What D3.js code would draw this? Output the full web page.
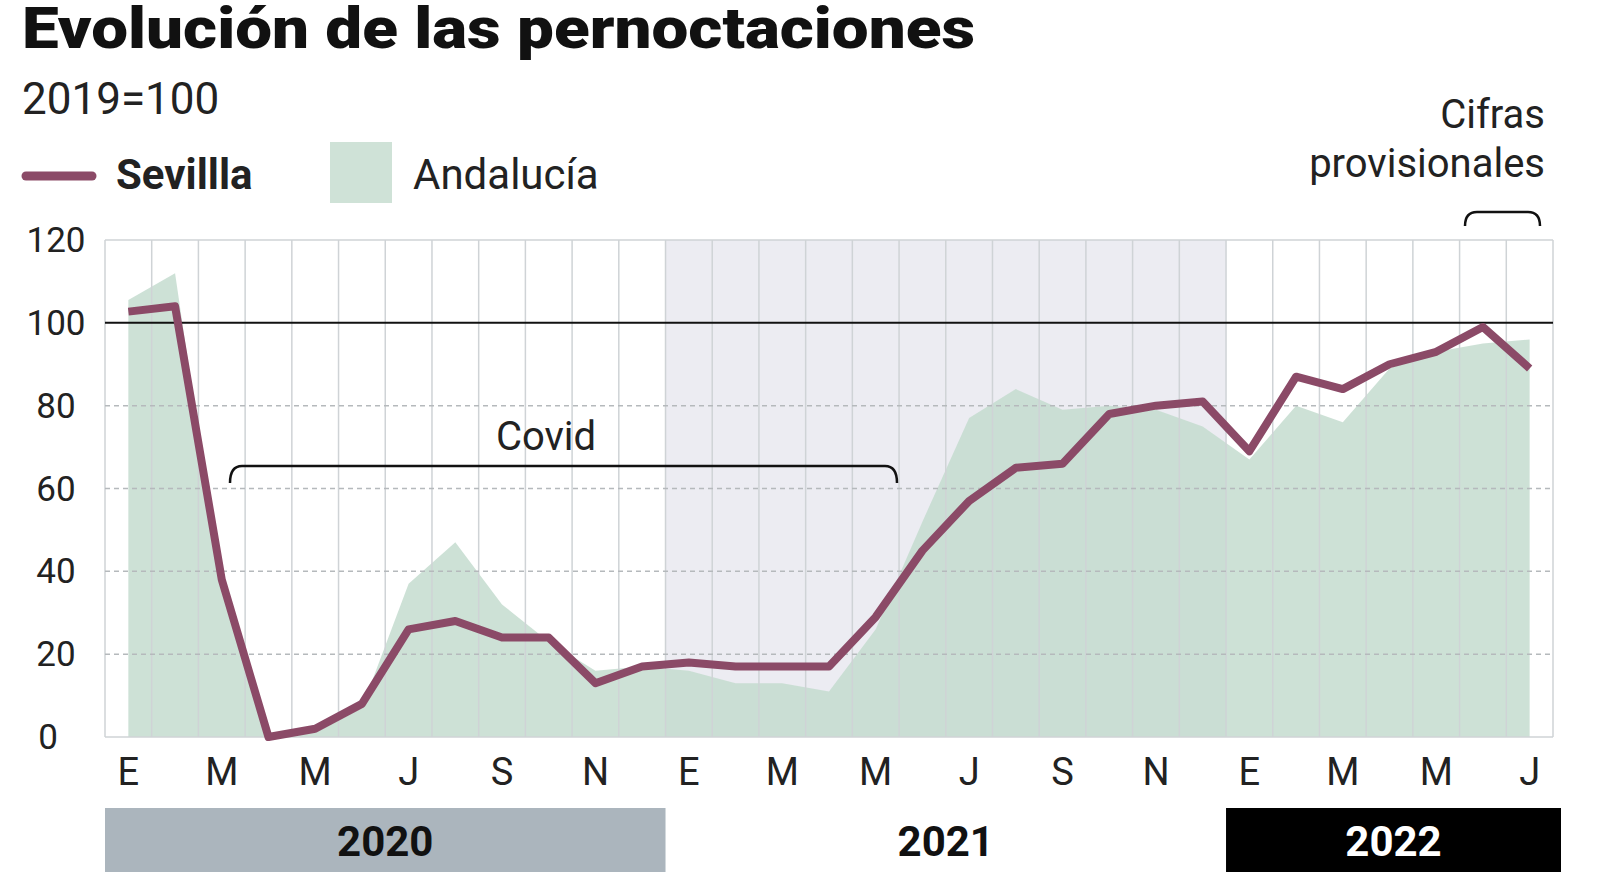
<!DOCTYPE html>
<html><head><meta charset="utf-8">
<script src="https://cdn.jsdelivr.net/npm/d3@7"></script>
<style>body{margin:0;background:#fff}text{font-family:Roboto,"Noto Sans",sans-serif}</style>
</head><body>
<svg id="c" width="1600" height="893"></svg>
<script>
// Jan 2020 .. Jul 2022, index 2019=100
var sevilla = [102.7,104,38,0,2,8,26,28,24,24,13,17,18,17,17,17,29,45,57,65,66,78,80,81,69,87,84,90,93,99,89];
var andalucia = [105.5,112,35,1,1,7,37,47,32,23,16,17,16,13,13,11,26,52,77,84,79,80,79,75,67,80,76,89,93,95,96];
var monthLabels = ['E','F','M','A','M','J','J','A','S','O','N','D','E','F','M','A','M','J','J','A','S','O','N','D','E','F','M','A','M','J','J'];
var labelIdx = [0,2,4,6,8,10,12,14,16,18,20,22,24,26,28,30];
var yTicks = [0,20,40,60,80,100,120];
var years = [{y:'2020',from:0,to:12,fill:'#abb5bd',color:'#111'},{y:'2021',from:12,to:24,fill:'none',color:'#111'},{y:'2022',from:24,to:31,fill:'#000',color:'#fff'}];

var svg = d3.select('#c');
var x0 = 105, x1 = 1553;
var band = d3.scaleBand().domain(d3.range(31)).range([x0, x1]);
var x = function(i) { return band(i) + band.bandwidth() / 2; };
var y = d3.scaleLinear().domain([0,120]).range([737,240]);

// 2021 shading
svg.append('rect').attr('x', band(12)).attr('y', y(120)).attr('width', band.bandwidth()*12)
    .attr('height', y(0)-y(120)).attr('fill', '#ececf2');

// area
svg.append('path').datum(andalucia)
    .attr('d', d3.area().x(function(d,i){return x(i);}).y0(y(0)).y1(function(d){return y(d);}))
    .attr('fill', '#c4dccf').attr('opacity', 0.85);

// vertical grid
svg.selectAll('line.v').data(d3.range(32)).enter().append('line')
    .attr('x1', function(i){return x0 + i*band.bandwidth();}).attr('x2', function(i){return x0 + i*band.bandwidth();})
    .attr('y1', y(120)).attr('y2', y(0)).attr('stroke', '#cfd3d6').attr('stroke-width', 1.5);

// horizontal grid
yTicks.forEach(function(t) {
    svg.append('line').attr('x1', x0).attr('x2', x1).attr('y1', y(t)).attr('y2', y(t))
        .attr('stroke', t === 100 ? '#111' : (t === 0 || t === 120 ? '#cfd3d6' : '#b5b9bc'))
        .attr('stroke-width', t === 100 ? 2 : 1.5)
        .attr('stroke-dasharray', (t > 0 && t < 100) ? '5,4' : null);
    svg.append('text').attr('x', t === 0 ? 48 : 56).attr('y', y(t) + 12).attr('text-anchor', 'middle')
        .attr('font-size', 35).attr('fill', '#222').text(t);
});

// line
svg.append('path').datum(sevilla)
    .attr('d', d3.line().x(function(d,i){return x(i);}).y(function(d){return y(d);}))
    .attr('fill', 'none').attr('stroke', '#8b4a67').attr('stroke-width', 8).attr('stroke-linejoin', 'round');

// month labels
svg.selectAll('text.m').data(labelIdx).enter().append('text')
    .attr('x', function(i){return x(i);}).attr('y', 785).attr('text-anchor', 'middle')
    .attr('font-size', 38).attr('fill', '#222').text(function(i){return monthLabels[i];});

// year bars
years.forEach(function(d) {
    if (d.fill !== 'none') {
        svg.append('rect').attr('x', band(d.from)).attr('y', 808)
            .attr('width', band.bandwidth()*(d.to-d.from) + (d.to === 31 ? 8 : 0)).attr('height', 64).attr('fill', d.fill);
    }
    svg.append('text').attr('x', band(d.from) + band.bandwidth()*(d.to-d.from)/2 + (d.to === 31 ? 4 : 0)).attr('y', 856)
        .attr('text-anchor', 'middle').attr('font-size', 42).attr('font-weight', 'bold').attr('fill', d.color).text(d.y);
});

// brackets
function bracket(xa, xb, yt, h) {
    svg.append('path').attr('d', 'M' + xa + ',' + (yt + h) + ' Q' + xa + ',' + yt + ' ' + (xa + 12) + ',' + yt +
        ' L' + (xb - 12) + ',' + yt + ' Q' + xb + ',' + yt + ' ' + xb + ',' + (yt + h))
        .attr('fill', 'none').attr('stroke', '#111').attr('stroke-width', 2.5);
}
bracket(230, 897, 466, 17);
svg.append('text').attr('x', 546).attr('y', 450).attr('text-anchor', 'middle').attr('font-size', 40).attr('fill', '#222').text('Covid');
bracket(1465, 1540, 212, 14);
svg.append('text').attr('x', 1545).attr('y', 128).attr('text-anchor', 'end').attr('font-size', 40).attr('fill', '#222').text('Cifras');
svg.append('text').attr('x', 1545).attr('y', 177).attr('text-anchor', 'end').attr('font-size', 40).attr('fill', '#222').text('provisionales');

// title and legend
svg.append('text').attr('x', 22).attr('y', 48).attr('font-size', 58).attr('font-weight', 900).attr('fill', '#111')
    .attr('textLength', 953).attr('lengthAdjust', 'spacingAndGlyphs').text('Evolución de las pernoctaciones');
svg.append('text').attr('x', 22).attr('y', 114).attr('font-size', 44).attr('fill', '#222').text('2019=100');
svg.append('line').attr('x1', 26).attr('x2', 92).attr('y1', 176).attr('y2', 176).attr('stroke', '#8b4a67').attr('stroke-width', 9).attr('stroke-linecap', 'round');
svg.append('text').attr('x', 116).attr('y', 189).attr('font-size', 42).attr('font-weight', 'bold').attr('fill', '#222').text('Sevillla');
svg.append('rect').attr('x', 330).attr('y', 142).attr('width', 62).attr('height', 61).attr('fill', '#cfe2d7');
svg.append('text').attr('x', 413).attr('y', 189).attr('font-size', 42).attr('fill', '#222').text('Andalucía');
</script>
</body></html>
